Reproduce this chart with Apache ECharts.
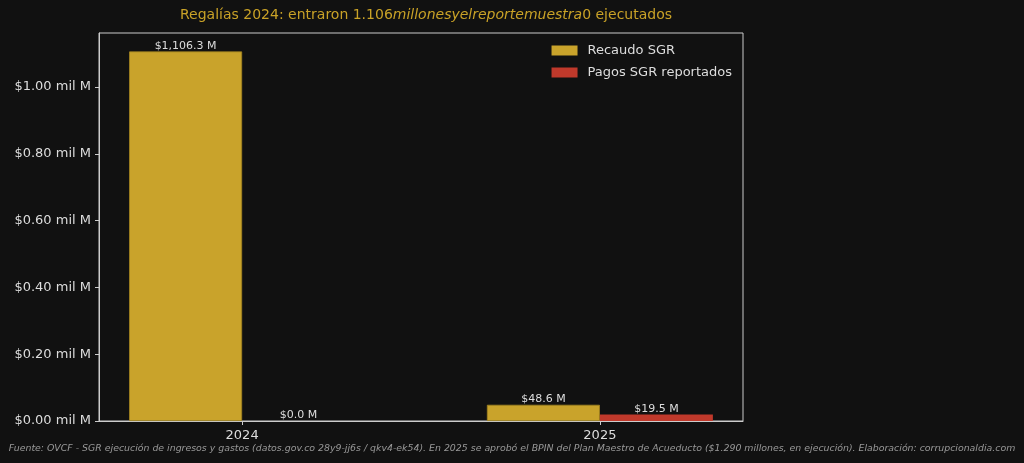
<!DOCTYPE html>
<html>
<head>
<meta charset="utf-8">
<script src="https://cdn.jsdelivr.net/npm/echarts@6/dist/echarts.min.js"></script>
<style>
  html, body { margin: 0; padding: 0; background: #111111; }
  #chart { width: 1024px; height: 463px; }
</style>
</head>
<body>
<div id="chart"></div>
<script>
// datos (millones de pesos)
const years = ['2024', '2025'];
const recaudo = [1106.3, 48.6];
const pagos = [0.0, 19.5];

const myChart = echarts.init(document.getElementById('chart'));

function moneyLabel(p) {
    return '$' + p.value[1].toLocaleString('en-US', { minimumFractionDigits: 1, maximumFractionDigits: 1 }) + ' M';
}

const option = {
    backgroundColor: '#111111',
    textStyle: { fontFamily: 'DejaVu Sans' },
    title: {
        text: '{n|Regalías 2024: entraron 1.106}{i|millonesyelreportemuestra}{n|0 ejecutados}',
        left: 421,
        textAlign: 'center',
        top: 3,
        textStyle: {
            fontWeight: 'normal',
            rich: {
                n: { color: '#c9a227', fontSize: 14, fontWeight: 'normal', fontFamily: 'DejaVu Sans' },
                i: { color: '#c9a227', fontSize: 14, fontWeight: 'normal', fontFamily: 'DejaVu Sans', fontStyle: 'italic' }
            }
        }
    },
    legend: {
        right: 292,
        top: 44,
        padding: 0,
        orient: 'vertical',
        itemWidth: 26,
        itemHeight: 10,
        itemGap: 9,
        icon: 'rect',
        itemStyle: { borderWidth: 0 },
        textStyle: { color: '#dddddd', fontSize: 13, padding: [0, 0, 0, 5] },
        data: ['Recaudo SGR', 'Pagos SGR reportados']
    },
    grid: {
        left: 99, right: 281, top: 33, bottom: 42,
        show: true, borderColor: '#cccccc', borderWidth: 1
    },
    xAxis: {
        type: 'value',
        min: -0.4,
        max: 1.4,
        splitLine: { show: false },
        axisLine: { show: true, onZero: false, lineStyle: { color: '#cccccc' } },
        axisTick: { show: true, customValues: [0, 1], length: 4, lineStyle: { color: '#cccccc' } },
        axisLabel: {
            customValues: [0, 1],
            color: '#dddddd',
            fontSize: 13,
            margin: 8,
            formatter: function (v) { return years[Math.round(v)]; }
        }
    },
    yAxis: {
        type: 'value',
        min: 0,
        max: 1161.6,
        interval: 200,
        splitLine: { show: false },
        axisLine: { show: true, onZero: false, lineStyle: { color: '#cccccc' } },
        axisTick: { show: true, length: 4, lineStyle: { color: '#cccccc' } },
        axisLabel: {
            color: '#dddddd',
            fontSize: 13,
            margin: 8,
            showMaxLabel: false,
            formatter: function (v) { return '$' + (v / 1000).toFixed(2) + ' mil M'; }
        }
    },
    series: [
        {
            name: 'Recaudo SGR',
            type: 'bar',
            barWidth: 113,
            barGap: '0%',
            data: recaudo.map(function (v, i) { return [i, v]; }),
            itemStyle: { color: '#c9a32b', borderColor: '#a3841f', borderWidth: 0.8 },
            label: { show: true, position: 'top', distance: 0, color: '#dddddd', fontSize: 11, formatter: moneyLabel }
        },
        {
            name: 'Pagos SGR reportados',
            type: 'bar',
            barWidth: 113,
            barGap: '0%',
            data: pagos.map(function (v, i) { return [i, v]; }),
            itemStyle: { color: '#c0392b' },
            label: { show: true, position: 'top', distance: 0, color: '#dddddd', fontSize: 11, formatter: moneyLabel }
        }
    ],
    graphic: [
        {
            type: 'text',
            left: 'center',
            top: 444,
            style: {
                text: 'Fuente: OVCF - SGR ejecución de ingresos y gastos (datos.gov.co 28y9-jj6s / qkv4-ek54). En 2025 se aprobó el BPIN del Plan Maestro de Acueducto ($1.290 millones, en ejecución). Elaboración: corrupcionaldia.com',
                fill: '#999999',
                fontSize: 9.4,
                fontStyle: 'italic',
                fontFamily: 'DejaVu Sans'
            }
        }
    ]
};

myChart.setOption(option);
</script>
</body>
</html>
